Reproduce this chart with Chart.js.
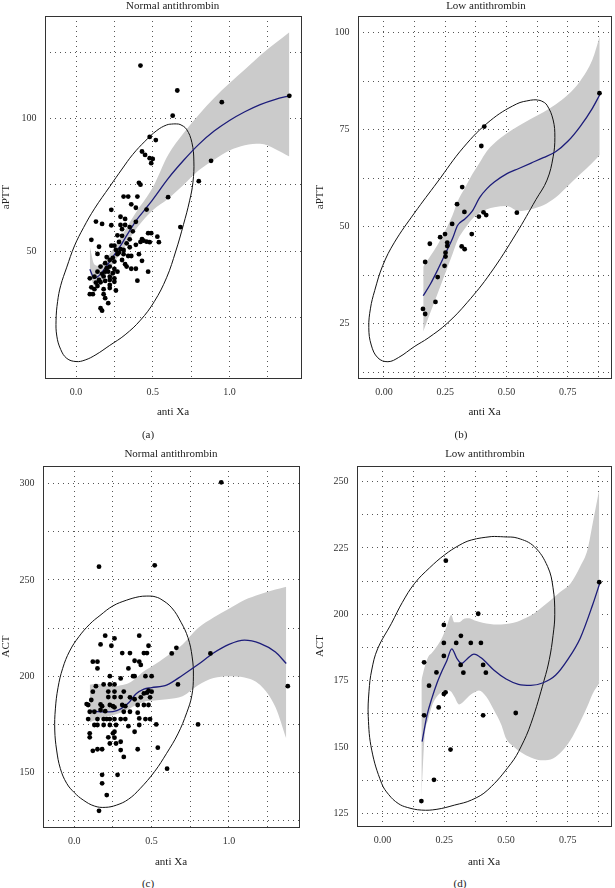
<!DOCTYPE html>
<html>
<head>
<meta charset="utf-8">
<script src="https://cdn.jsdelivr.net/npm/chart.js@4.4.1/dist/chart.umd.min.js"></script>
<style>
  body { margin: 0; background: #fff; }
  #fig { position: relative; width: 615px; height: 888px; overflow: hidden; }
  #fig canvas { position: absolute; }
  .lbl {
    position: absolute; transform: translate(-50%, -50%);
    font-family: 'Liberation Serif', 'DejaVu Serif', serif; font-size: 11px;
    line-height: 1; color: #222; white-space: nowrap;
  }
</style>
</head>
<body>
<div id="fig">
  <canvas id="panelA" width="307" height="422" style="left:0;top:0"></canvas>
  <canvas id="panelB" width="308" height="422" style="left:307px;top:0"></canvas>
  <canvas id="panelC" width="307" height="432" style="left:0;top:440px"></canvas>
  <canvas id="panelD" width="308" height="432" style="left:307px;top:440px"></canvas>

  <div class="lbl" style="left:172.7px;top:4.5px">Normal antithrombin</div>
  <div class="lbl" style="left:486px;top:4.5px">Low antithrombin</div>
  <div class="lbl" style="left:148px;top:434px">(a)</div>
  <div class="lbl" style="left:461px;top:434px">(b)</div>
  <div class="lbl" style="left:171px;top:452.7px">Normal antithrombin</div>
  <div class="lbl" style="left:485px;top:452.7px">Low antithrombin</div>
  <div class="lbl" style="left:148px;top:883px">(c)</div>
  <div class="lbl" style="left:460px;top:883px">(d)</div>
</div>
<script>
// ---- axis ticks ----
const wideXGrid = [0, 0.25, 0.5, 0.75, 1, 1.25];
const wideXTicks = [0, 0.5, 1];
const wideXText = ['0.0', '0.5', '1.0'];
const narrowXGrid = [0, 0.125, 0.25, 0.375, 0.5, 0.625, 0.75, 0.875];
const narrowXTicks = [0, 0.25, 0.5, 0.75];
const narrowXText = ['0.00', '0.25', '0.50', '0.75'];

const normalApttGrid = [25, 50, 75, 100, 125];
const normalApttTicks = [50, 100];
const lowApttGrid = [12.5, 25, 37.5, 50, 62.5, 75, 87.5, 100];
const lowApttTicks = [25, 50, 75, 100];
const normalActGrid = [125, 150, 175, 200, 225, 250, 275, 300];
const normalActTicks = [150, 200, 250, 300];
const lowActGrid = [125, 137.5, 150, 162.5, 175, 187.5, 200, 212.5, 225, 237.5, 250];
const lowActTicks = [125, 150, 175, 200, 225, 250];

// ---- (a) normal antithrombin, aPTT ----
const normalAptt = [
  [0.42,120],[0.66,110.6],[0.95,106.2],[1.39,108.6],[0.63,101.1],[0.48,93.1],[0.52,91.9],[0.43,87.6],
  [0.45,86.3],[0.48,85.1],[0.50,84.8],[0.49,83.2],[0.88,84.1],[0.41,75.8],[0.42,75.1],[0.80,76.4],
  [0.31,70.6],[0.34,70.6],[0.40,70.6],[0.60,70.4],[0.36,67.7],[0.39,66.4],[0.23,65.6],[0.46,65.7],
  [0.29,63],[0.32,62.2],[0.13,61.2],[0.17,60.3],[0.23,59.8],[0.29,59.9],[0.32,59.9],[0.39,61.1],
  [0.35,59.1],[0.68,59.1],[0.30,58.3],[0.27,56],[0.30,55.8],[0.35,54.5],[0.47,56.8],[0.49,56.8],
  [0.53,55.5],[0.54,53.4],[0.43,54.6],[0.42,53.5],[0.44,54],[0.46,53.6],[0.48,53.4],[0.39,52.4],
  [0.33,53],[0.10,54.3],[0.23,52.1],[0.25,52.1],[0.29,50.8],[0.27,48.9],[0.31,48.9],[0.34,48.2],
  [0.36,48.2],[0.41,48.9],[0.30,46.7],[0.25,46.1],[0.14,49],[0.15,51.7],[0.43,46.4],[0.32,45.1],
  [0.33,44.2],[0.36,43.4],[0.39,43.4],[0.47,42.3],[0.19,45.5],[0.22,46.7],[0.16,44.2],[0.20,43.6],
  [0.22,44.2],[0.25,43.3],[0.14,42.3],[0.17,41.5],[0.19,42.3],[0.21,42.3],[0.24,41.7],[0.27,42.3],
  [0.09,39.8],[0.12,40.4],[0.15,39.2],[0.16,38.3],[0.19,38.8],[0.22,39.2],[0.25,39.8],[0.22,37.3],
  [0.25,38.5],[0.40,38.9],[0.10,36.4],[0.14,36.9],[0.12,35.7],[0.18,35.7],[0.22,36.1],[0.26,35.2],
  [0.09,33.8],[0.11,33.8],[0.18,33.8],[0.19,32.3],[0.21,30.4],[0.16,28.5],[0.17,27.6],[0.22,40.4],
  [0.28,49.5],[0.26,50.5],[0.24,47.5],[0.20,47.8],[0.31,50.5],[0.35,51.5],[0.37,57.5],[0.28,53.5],
  [0.18,40.5],[0.13,38.2]
];
const normalApttFitX = [0.09, 0.12, 0.15, 0.2, 0.25, 0.3, 0.35, 0.4, 0.45, 0.5, 0.6, 0.7, 0.8, 0.9, 1.0, 1.1, 1.2, 1.3, 1.39];
const normalApttFit = [43.2, 39.8, 40.8, 44.5, 48.7, 53.0, 57.8, 62.2, 65.8, 69.5, 77.4, 84.2, 90.3, 95.3, 99.3, 102.6, 105.3, 107.3, 108.6];
const normalApttLo = [42.0, 37.0, 37.5, 41.5, 46.0, 50.0, 54.8, 59.0, 62.5, 65.5, 69.8, 75.0, 80.5, 84.5, 88.0, 90.0, 90.5, 88.5, 85.7];
const normalApttHi = [51.7, 45.0, 44.5, 47.5, 51.5, 56.0, 60.8, 65.5, 69.5, 74.0, 86.3, 94.5, 101.5, 107.8, 113.3, 118.5, 123.8, 128.5, 132.6];
const normalApttEllipse = [
  [0.656,98],[0.678,97.8],[0.72,96],[0.755,91],[0.768,84],[0.762,76],[0.74,69],[0.70,60],[0.65,50],[0.59,40],
  [0.51,31],[0.42,24],[0.32,18.5],[0.22,14.5],[0.13,11],[0.06,9],[0.0,8.4],[-0.06,9.6],[-0.10,13],
  [-0.125,18],[-0.13,24],[-0.12,31],[-0.10,37],[-0.06,44],[-0.01,52],[0.05,59],[0.12,66],[0.22,74.4],
  [0.30,81],[0.37,86.5],[0.45,91.5],[0.526,95.5],[0.59,97.6],[0.634,98],[0.656,98]
];

// ---- (b) low antithrombin, aPTT ----
const lowAptt = [
  [0.879,84.4],[0.409,75.8],[0.397,70.8],[0.319,60.2],[0.298,55.8],[0.328,53.8],[0.406,53.7],[0.417,53.0],
  [0.387,52.6],[0.542,53.6],[0.278,50.7],[0.249,48.1],[0.229,47.3],[0.358,48.1],[0.187,45.6],[0.258,45.9],
  [0.258,45.0],[0.317,44.9],[0.329,44.2],[0.251,43.3],[0.251,42.3],[0.168,40.9],[0.247,39.9],[0.219,37.0],
  [0.210,30.6],[0.159,28.8],[0.168,27.5]
];
const lowApttFitX = [0.16, 0.19, 0.22, 0.25, 0.28, 0.30, 0.33, 0.36, 0.39, 0.42, 0.45, 0.50, 0.55, 0.60, 0.65, 0.70, 0.75, 0.80, 0.85, 0.88];
const lowApttFit = [32.2, 35.3, 39.0, 43.0, 47.0, 50.3, 52.0, 54.0, 57.5, 59.8, 61.5, 63.6, 65.0, 66.4, 67.8, 69.3, 72.0, 75.8, 80.5, 84.0];
const lowApttLo = [23, 28, 33, 38, 43, 46.5, 49.5, 52, 53.5, 54.5, 55, 55.3, 54, 54.5, 55.5, 57.5, 60.5, 63.5, 66.5, 68.5];
const lowApttHi = [39.7, 42.5, 45.5, 49, 53, 56.5, 60, 63.5, 66.5, 69.5, 71.5, 74, 76, 77.8, 79.5, 81.5, 84, 87.5, 93, 99];
const lowApttEllipse = [
  [0.62,82.7],[0.642,82.4],[0.665,81.3],[0.69,77.5],[0.697,73],[0.69,68],[0.665,62],[0.62,57],[0.54,48.3],[0.433,37.9],
  [0.34,30.5],[0.258,25.1],[0.18,21.3],[0.124,19.1],[0.06,16.3],[0.016,15.2],[-0.025,16.2],[-0.052,19.5],
  [-0.062,24],[-0.055,29],[-0.038,33.5],[-0.005,40],[0.043,46],[0.124,53.5],[0.218,61.5],[0.325,70.5],
  [0.433,77.3],[0.54,81.6],[0.598,82.6],[0.62,82.7]
];

// ---- (c) normal antithrombin, ACT ----
const normalAct = [
  [0.95,300.7],[0.16,256.9],[0.52,257.6],[0.20,221],[0.26,219.6],[0.42,221],[0.17,216.5],[0.24,215.8],
  [0.48,215.8],[0.66,214.7],[0.63,211.8],[0.31,212],[0.36,212],[0.45,212],[0.47,212],[0.88,211.8],
  [0.12,207.5],[0.15,207.5],[0.42,207.5],[0.39,208],[0.15,204],[0.35,204],[0.43,205.8],[0.23,200],
  [0.30,198.8],[0.38,200],[0.39,200],[0.46,200],[0.50,200],[0.19,195.7],[0.23,195.7],[0.26,195.7],
  [0.14,194.8],[0.67,195.7],[1.38,194.8],[0.12,191.9],[0.22,192],[0.26,192],[0.32,192],[0.22,189.1],
  [0.26,189.1],[0.30,189.1],[0.36,189],[0.39,188],[0.43,189],[0.45,191],[0.47,191.4],[0.48,192.4],
  [0.49,189],[0.50,191.9],[0.11,187.6],[0.08,185.5],[0.09,185],[0.17,185.3],[0.18,184.4],[0.23,185],
  [0.25,184.4],[0.26,183.8],[0.31,185],[0.33,184.4],[0.41,185],[0.45,185],[0.48,185],[0.10,181.5],
  [0.13,181.5],[0.17,182.4],[0.20,181.8],[0.32,181.5],[0.36,181.5],[0.41,181],[0.09,177.7],[0.15,177.7],
  [0.19,177.7],[0.21,177.7],[0.23,177.7],[0.26,177.7],[0.30,177.7],[0.33,177.7],[0.42,178],[0.46,177.7],
  [0.49,177.7],[0.13,174.6],[0.15,174.6],[0.19,174.6],[0.23,174.6],[0.27,174.6],[0.35,174],[0.42,174.6],
  [0.53,174.9],[0.80,174.9],[0.10,170.3],[0.10,168.2],[0.26,171.1],[0.25,170.3],[0.22,168.2],[0.26,168],
  [0.39,171.1],[0.23,165],[0.27,165],[0.30,165.9],[0.12,161.2],[0.15,162],[0.18,162],[0.30,161.6],
  [0.41,162],[0.54,162.8],[0.32,158],[0.60,151.9],[0.18,148.7],[0.18,144.3],[0.28,148.7],[0.21,138.2],
  [0.16,130]
];
const normalActFitX = [0.10, 0.15, 0.20, 0.25, 0.30, 0.35, 0.40, 0.45, 0.50, 0.60, 0.70, 0.80, 0.90, 1.00, 1.10, 1.20, 1.30, 1.37];
const normalActFit = [182.0, 181.6, 181.4, 181.6, 183.0, 186.0, 190.8, 193.3, 194.0, 195.5, 200.5, 206.0, 212.0, 216.5, 218.7, 217.0, 212.5, 206.6];
const normalActLo = [176.1, 177.5, 178.7, 179.7, 181.0, 182.8, 185.0, 186.7, 187.2, 188.0, 189.5, 195.3, 199.0, 200.0, 199.3, 195.5, 184.0, 167.6];
const normalActHi = [195.5, 196.0, 195.2, 194.5, 195.2, 196.3, 199.0, 202.5, 205.0, 210.5, 216.5, 225.0, 230.5, 235.0, 239.5, 242.5, 245.0, 246.5];
const normalActEllipse = [
  [0.489,241.6],[0.515,241.4],[0.56,240],[0.63,235.5],[0.69,228],[0.735,220],[0.762,210],[0.77,200],[0.76,190],
  [0.727,181],[0.67,170],[0.597,159.9],[0.52,150.5],[0.425,141.5],[0.35,136],[0.274,133],[0.2,131.8],
  [0.13,132.5],[0.058,135.6],[0.0,139.5],[-0.049,144.3],[-0.09,152],[-0.114,161.6],[-0.126,172],
  [-0.122,183],[-0.105,194],[-0.075,204],[-0.03,213],[0.03,220.5],[0.1,227],[0.166,231.5],[0.25,236.5],
  [0.339,239.5],[0.42,241.3],[0.465,241.6],[0.489,241.6]
];

// ---- (d) low antithrombin, ACT ----
const lowAct = [
  [0.256,220.2],[0.877,212.1],[0.387,200.2],[0.248,196],[0.317,191.9],[0.248,189.2],[0.298,189.2],
  [0.357,189.2],[0.398,189.2],[0.248,184.3],[0.168,181.9],[0.316,180.9],[0.407,180.9],[0.218,178.1],
  [0.327,178],[0.418,178],[0.188,173.1],[0.248,170],[0.255,170.6],[0.227,164.9],[0.168,161.9],
  [0.407,161.9],[0.539,162.8],[0.275,149],[0.208,137.6],[0.157,129.6]
];
const lowActFitX = [0.16, 0.18, 0.20, 0.22, 0.24, 0.26, 0.28, 0.30, 0.32, 0.34, 0.37, 0.40, 0.45, 0.50, 0.55, 0.60, 0.65, 0.70, 0.75, 0.80, 0.85, 0.88];
const lowActFit = [152, 162, 168.5, 174, 178.5, 182.5, 187, 183.5, 181.5, 183, 185, 183.5, 179, 175.6, 173.6, 173.2, 174.2, 177, 183, 191, 203.5, 212];
const lowActBandX = [0.157, 0.17, 0.185, 0.2, 0.22, 0.24, 0.26, 0.278, 0.29, 0.31, 0.33, 0.35, 0.37, 0.39, 0.42, 0.45, 0.48, 0.5, 0.53, 0.56, 0.6, 0.64, 0.68, 0.72, 0.76, 0.8, 0.83, 0.85, 0.877];
const lowActLo = [131, 153.8, 160.5, 165.5, 169, 170.8, 171.5, 170.8, 169, 166, 167.3, 169.2, 170.5, 171.3, 168.9, 164, 158.5, 153.2, 150.2, 148, 146, 145, 145.3, 147.8, 152.5, 159.5, 165.5, 170, 174];
const lowActHi = [175, 180, 184, 185.5, 188, 191, 195.5, 199.7, 197, 197, 198.3, 198.5, 197.8, 197.2, 196.5, 196.2, 196.2, 196.3, 196.8, 197.8, 199.5, 202.3, 205.3, 208.5, 211.5, 218, 224.5, 234, 247];
const lowActEllipse = [
  [0.466,229.3],[0.49,229.2],[0.547,228.7],[0.614,225.5],[0.668,218],[0.69,210],[0.697,200],[0.69,192],[0.675,183],
  [0.654,175.2],[0.601,158.9],[0.56,150],[0.52,143.8],[0.426,133.8],[0.36,130],[0.292,128.1],[0.22,126.5],
  [0.157,126.2],[0.1,127.2],[0.063,128.7],[0.025,132],[-0.004,136.3],[-0.044,148.8],[-0.058,161.4],
  [-0.055,171],[-0.044,179],[-0.02,187],[0.036,196.6],[0.08,204.5],[0.13,211.7],[0.19,217.5],
  [0.251,222.4],[0.31,226],[0.359,228],[0.44,229.3],[0.466,229.3]
];

const serif = "'Liberation Serif', 'DejaVu Serif', serif";
const toXY = pairs => pairs.map(p => ({ x: p[0], y: p[1] }));
const zip = (xs, ys) => xs.map((x, i) => ({ x, y: ys[i] }));

// box around the plotting region
const framePlugin = {
  id: 'frame',
  afterDatasetsDraw(chart) {
    const { ctx, chartArea: a } = chart;
    ctx.save();
    ctx.strokeStyle = '#333';
    ctx.lineWidth = 1;
    ctx.strokeRect(Math.round(a.left) + 0.5, Math.round(a.top) + 0.5,
      Math.round(a.right - a.left), Math.round(a.bottom - a.top));
    ctx.restore();
  }
};

function drawPanel(id, p) {
  const labelFor = (vals, texts) => v => {
    const i = vals.indexOf(v);
    return i < 0 ? '' : texts[i];
  };
  const tickFont = { family: serif, size: 10 };
  const titleFont = { family: serif, size: 11 };
  const grid = { color: '#555', lineWidth: 1, drawTicks: false };
  const border = { display: false, dash: [1, 4] };

  new Chart(document.getElementById(id), {
    type: 'line',
    data: {
      datasets: [
        { data: toXY(p.points), showLine: false, order: 0,
          pointRadius: 2.4, pointBackgroundColor: '#000', pointBorderWidth: 0 },
        { data: zip(p.fitX, p.fit), order: 1, borderColor: '#1c1c7a', borderWidth: 1.3,
          pointRadius: 0, cubicInterpolationMode: 'monotone' },
        { data: zip(p.bandX, p.lo), order: 4, borderColor: 'transparent', borderWidth: 0,
          pointRadius: 0, cubicInterpolationMode: 'monotone' },
        { data: zip(p.bandX, p.hi), order: 3, borderColor: 'transparent', borderWidth: 0,
          pointRadius: 0, cubicInterpolationMode: 'monotone', fill: '-1', backgroundColor: '#cbcbcb' },
        { data: toXY(p.ellipse), order: 2, borderColor: '#111', borderWidth: 1,
          pointRadius: 0, tension: 0.4 }
      ]
    },
    options: {
      responsive: false,
      animation: false,
      events: [],
      layout: { padding: p.pad },
      plugins: { legend: { display: false }, tooltip: { enabled: false } },
      scales: {
        x: {
          type: 'linear', min: p.xRange[0], max: p.xRange[1],
          afterBuildTicks: s => { s.ticks = p.xGrid.map(v => ({ value: v })); },
          afterFit: s => { s.height = p.xAxisH; },
          ticks: { callback: labelFor(p.xTicks, p.xText), autoSkip: false, maxRotation: 0,
                   padding: 8, color: '#333', font: tickFont },
          grid, border,
          title: { display: true, text: 'anti Xa', color: '#222', font: titleFont,
                   padding: { top: 0, bottom: 3.4 } }
        },
        y: {
          type: 'linear', min: p.yRange[0], max: p.yRange[1],
          afterBuildTicks: s => { s.ticks = p.yGrid.map(v => ({ value: v })); },
          afterFit: s => { s.width = p.yAxisW; },
          ticks: { callback: labelFor(p.yTicks, p.yTicks.map(String)), autoSkip: false,
                   padding: 8.5, color: '#333', font: tickFont },
          grid, border,
          title: { display: true, text: p.yTitle, color: '#222', font: titleFont,
                   padding: { top: p.yTitlePad, bottom: 0 } }
        }
      }
    },
    plugins: [framePlugin]
  });
}

drawPanel('panelA', {
  points: normalAptt, fitX: normalApttFitX, fit: normalApttFit,
  bandX: normalApttFitX, lo: normalApttLo, hi: normalApttHi, ellipse: normalApttEllipse,
  xRange: [-0.202, 1.466], yRange: [2.2, 138.7],
  xGrid: wideXGrid, xTicks: wideXTicks, xText: wideXText,
  yGrid: normalApttGrid, yTicks: normalApttTicks, yTitle: 'aPTT',
  pad: { left: 0, top: 16, right: 6, bottom: 0 }, yAxisW: 45, xAxisH: 44, yTitlePad: 0
});

drawPanel('panelB', {
  points: lowAptt, fitX: lowApttFitX, fit: lowApttFit,
  bandX: lowApttFitX, lo: lowApttLo, hi: lowApttHi, ellipse: lowApttEllipse,
  xRange: [-0.106, 0.926], yRange: [11.0, 104.3],
  xGrid: narrowXGrid, xTicks: narrowXTicks, xText: narrowXText,
  yGrid: lowApttGrid, yTicks: lowApttTicks, yTitle: 'aPTT',
  pad: { left: 0, top: 16, right: 1, bottom: 0 }, yAxisW: 51, xAxisH: 44, yTitlePad: 6.4
});

drawPanel('panelC', {
  points: normalAct, fitX: normalActFitX, fit: normalActFit,
  bandX: normalActFitX, lo: normalActLo, hi: normalActHi, ellipse: normalActEllipse,
  xRange: [-0.202, 1.4525], yRange: [121.6, 309.2],
  xGrid: wideXGrid, xTicks: wideXTicks, xText: wideXText,
  yGrid: normalActGrid, yTicks: normalActTicks, yTitle: 'ACT',
  pad: { left: 0, top: 26, right: 8, bottom: 0 }, yAxisW: 43, xAxisH: 45, yTitlePad: 0
});

drawPanel('panelD', {
  points: lowAct, fitX: lowActFitX, fit: lowActFit,
  bandX: lowActBandX, lo: lowActLo, hi: lowActHi, ellipse: lowActEllipse,
  xRange: [-0.1036, 0.9246], yRange: [120.2, 255.9],
  xGrid: narrowXGrid, xTicks: narrowXTicks, xText: narrowXText,
  yGrid: lowActGrid, yTicks: lowActTicks, yTitle: 'ACT',
  pad: { left: 0, top: 26, right: 3, bottom: 0 }, yAxisW: 50, xAxisH: 46, yTitlePad: 6.4
});
</script>
</body>
</html>
